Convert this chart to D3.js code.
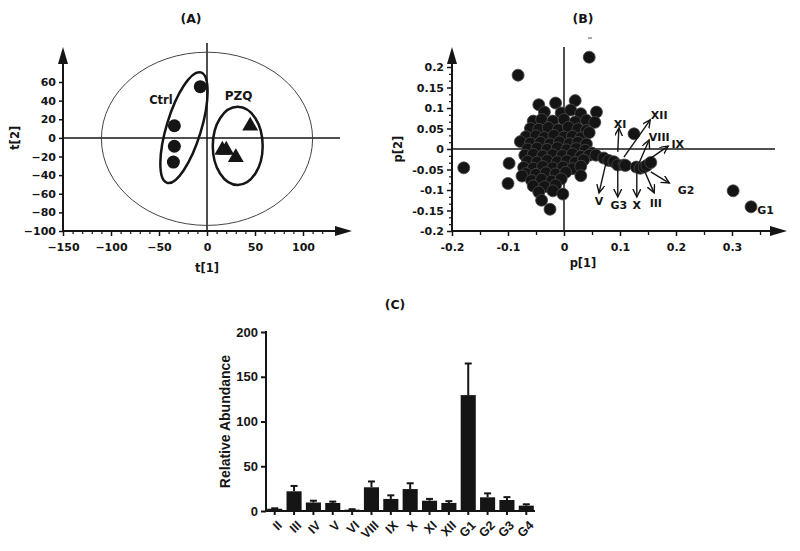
<!DOCTYPE html>
<html><head><meta charset="utf-8">
<script src="https://cdn.jsdelivr.net/npm/d3@7"></script>
<style>
body{margin:0;background:#fff}
svg text{font-family:"DejaVu Sans",Verdana,sans-serif;font-weight:bold;fill:#151515}
svg text.ar{font-family:"Liberation Sans",Arial,sans-serif}
</style>
</head><body><svg id="c" width="800" height="551"></svg>
<script>
// ---------- Data ----------
// Panel A: score plot
const ctrlScores = [[-7,55],[-34,13],[-34,-9],[-35,-26]];
const pzqScores = [[16,-12],[20,-12],[30,-20],[45,14]];
const aTicksX = [-150,-100,-50,0,50,100];
const aMinorX = [-140,-130,-120,-110,-90,-80,-70,-60,-40,-30,-20,-10,10,20,30,40,60,70,80,90,110,120];
const aTicksY = [60,40,20,0,-20,-40,-60,-80,-100];
// Hotelling ellipse and group ellipses (data units)
const hotelling = {cx:0, cy:-1, rx:110, ry:93};
const ctrlEllipse = {cx:-24, cy:11, rx:18, ry:62, angle:17};
const pzqEllipse = {cx:32, cy:-8.6, rx:26, ry:42, angle:0};

// Panel B: loading plot
const loadings = [
 [-0.179,-0.046],[-0.082,0.18],[0.045,0.224],[0.302,-0.102],[0.334,-0.141],
 [-0.098,-0.035],[-0.1,-0.084],[-0.025,-0.147],[0.125,0.037],
 [-0.045,0.108],[-0.015,0.112],[0.02,0.118],
 [-0.035,0.09],[-0.005,0.088],[0.012,0.095],[0.03,0.086],[0.058,0.09],
 [-0.055,0.068],[-0.04,0.072],[-0.02,0.068],[0.0,0.072],[0.02,0.066],[0.04,0.07],[0.055,0.065],
 [-0.06,0.05],[-0.045,0.048],[-0.028,0.052],[-0.01,0.047],[0.008,0.053],[0.025,0.049],[0.04,0.045],
 [-0.068,0.03],[-0.05,0.032],[-0.035,0.028],[-0.018,0.033],[0.0,0.029],[0.015,0.031],[0.03,0.027],[0.045,0.04],
 [-0.078,0.018],[-0.06,0.014],[-0.042,0.016],[-0.025,0.012],[-0.008,0.017],[0.01,0.013],[0.025,0.016],[0.04,0.012],
 [-0.065,0.0],[-0.048,0.002],[-0.03,-0.001],[-0.012,0.003],[0.005,-0.002],[0.022,0.001],[0.038,-0.003],[0.05,-0.01],
 [-0.07,-0.015],[-0.055,-0.013],[-0.038,-0.017],[-0.02,-0.014],[-0.003,-0.016],[0.015,-0.012],[0.03,-0.018],[0.045,-0.015],
 [-0.065,-0.03],[-0.048,-0.032],[-0.03,-0.028],[-0.012,-0.031],[0.005,-0.029],[0.02,-0.033],[0.035,-0.027],
 [-0.072,-0.045],[-0.055,-0.047],[-0.038,-0.043],[-0.02,-0.046],[-0.002,-0.044],[0.015,-0.048],[0.03,-0.042],
 [-0.068,-0.06],[-0.05,-0.062],[-0.032,-0.058],[-0.015,-0.061],[0.003,-0.057],[0.03,-0.065],
 [-0.075,-0.066],[-0.058,-0.077],[-0.04,-0.074],[-0.022,-0.078],[-0.005,-0.073],
 [-0.055,-0.09],[-0.035,-0.092],[-0.015,-0.088],
 [-0.045,-0.105],[-0.02,-0.102],[-0.002,-0.11],[-0.04,-0.125],
 [0.057,-0.015],[0.071,-0.022],[0.08,-0.028],[0.089,-0.031],[0.096,-0.039],[0.107,-0.039],
 [0.11,-0.04],[0.129,-0.044],[0.136,-0.047],[0.143,-0.044],[0.148,-0.04],[0.155,-0.033]
];
const bTicksX = [-0.2,-0.1,0,0.1,0.2,0.3];
const bMinorX = [-0.15,-0.05,0.05,0.15,0.25,0.35];
const bTicksY = [0.2,0.15,0.1,0.05,0,-0.05,-0.1,-0.15,-0.2];
const bTickLabelsY = ["0.2","0.15","0.1","0.05","0","-0.05","-0.1","-0.15","-0.2"];
// annotation arrows: label, from (x,y), to (x,y), label position (x,y)
const arrowLabels = ["XI","XII","VIII","IX","G2","III","X","G3","V"];
const arrowFrom = [[0.096,-0.007],[0.107,-0.02],[0.134,-0.034],[0.15,-0.027],[0.155,-0.056],[0.143,-0.051],[0.13,-0.039],[0.096,-0.039],[0.075,-0.034]];
const arrowTo = [[0.098,0.051],[0.154,0.071],[0.152,0.022],[0.186,0.007],[0.188,-0.083],[0.161,-0.107],[0.13,-0.117],[0.096,-0.117],[0.0625,-0.107]];
const arrowText = [[0.1,0.062],[0.17,0.082],[0.17,0.03],[0.203,0.012],[0.218,-0.1],[0.164,-0.131],[0.13,-0.137],[0.098,-0.137],[0.0625,-0.127]];
const g1Label = [0.345,-0.149];

// Panel C: bar chart
const barCategories = ["II","III","IV","V","VI","VIII","IX","X","XI","XII","G1","G2","G3","G4"];
const barValues = [2.5,22,9.5,9,1.5,26.5,13.5,24.5,11.5,9,129.5,15.3,12.3,6];
const barErrTop = [3,28,11.5,10.5,2,33,17.5,31,13.5,11,164.8,19.7,15.5,7.5];
const cTicksY = [0,50,100,150,200];

// ---------- Drawing ----------
const svg = d3.select("#c");
const ink = "#151515";
svg.append("defs").append("marker")
  .attr("id","arr").attr("markerUnits","userSpaceOnUse")
  .attr("markerWidth",10).attr("markerHeight",10)
  .attr("refX",8).attr("refY",4).attr("orient","auto")
  .append("path").attr("d","M0,0 L8,4 L0,8").attr("fill","none")
  .attr("stroke",ink).attr("stroke-width",1.4);

function styleAxis(g, w){
  g.select(".domain").remove();
  g.selectAll("line").attr("stroke",ink).attr("stroke-width",w||1.5);
  g.selectAll("text").attr("fill",ink).attr("font-weight","bold");
}
function arrowHeadUp(x,y){ svg.append("path").attr("d",`M${x},${y} L${x-5},${y+17} L${x+5},${y+17} Z`).attr("fill",ink); }
function arrowHeadRight(x,y){ svg.append("path").attr("d",`M${x},${y} L${x-17},${y-5} L${x-17},${y+5} Z`).attr("fill",ink); }

// ===== Panel A =====
const xA = d3.scaleLinear().domain([-150,100]).range([63,303]);
const yA = d3.scaleLinear().domain([-100,60]).range([231,82]);
const gA = svg.append("g");
svg.append("text").attr("x",191).attr("y",23).attr("text-anchor","middle").attr("font-size",12.5).text("(A)");
gA.append("line").attr("x1",xA(-150)).attr("x2",340).attr("y1",yA(0)).attr("y2",yA(0)).attr("stroke",ink).attr("stroke-width",1.5);
gA.append("line").attr("x1",xA(0)).attr("x2",xA(0)).attr("y1",43).attr("y2",yA(-100)).attr("stroke",ink).attr("stroke-width",1.5);
gA.append("ellipse").attr("cx",xA(hotelling.cx)).attr("cy",yA(hotelling.cy))
  .attr("rx",xA(hotelling.rx)-xA(0)).attr("ry",yA(0)-yA(hotelling.ry))
  .attr("fill","none").attr("stroke","#444").attr("stroke-width",1);
[ctrlEllipse,pzqEllipse].forEach(e=>{
  gA.append("ellipse").attr("transform",`translate(${xA(e.cx)},${yA(e.cy)}) rotate(${e.angle})`)
    .attr("rx",xA(e.rx)-xA(0)).attr("ry",yA(0)-yA(e.ry))
    .attr("fill","none").attr("stroke",ink).attr("stroke-width",2.5);
});
const axAx = gA.append("g").attr("transform",`translate(0,${yA(-100)})`)
  .call(d3.axisBottom(xA).tickValues(aTicksX).tickSize(5).tickPadding(7).tickSizeOuter(0));
styleAxis(axAx); axAx.selectAll("text").attr("font-size",11);
const axAxm = gA.append("g").attr("transform",`translate(0,${yA(-100)})`)
  .call(d3.axisBottom(xA).tickValues(aMinorX).tickSize(3).tickFormat(""));
styleAxis(axAxm,1.2);
const axAy = gA.append("g").attr("transform",`translate(${xA(-150)},0)`)
  .call(d3.axisLeft(yA).tickValues(aTicksY).tickSize(4).tickPadding(3).tickSizeOuter(0));
styleAxis(axAy); axAy.selectAll("text").attr("font-size",11);
gA.append("line").attr("x1",xA(-150)).attr("x2",345).attr("y1",yA(-100)).attr("y2",yA(-100)).attr("stroke",ink).attr("stroke-width",2);
gA.append("line").attr("x1",xA(-150)).attr("x2",xA(-150)).attr("y1",yA(-100)).attr("y2",55).attr("stroke",ink).attr("stroke-width",2);
arrowHeadUp(xA(-150),47);
arrowHeadRight(352,yA(-100));
svg.append("text").attr("transform",`translate(19,${yA(0)}) rotate(-90)`).attr("text-anchor","middle").attr("font-size",11.5).text("t[2]");
svg.append("text").attr("x",xA(0)).attr("y",272).attr("text-anchor","middle").attr("font-size",11.5).text("t[1]");
gA.selectAll(".ctrl").data(ctrlScores).join("circle")
  .attr("cx",d=>xA(d[0])).attr("cy",d=>yA(d[1])).attr("r",6.5).attr("fill",ink);
gA.selectAll(".pzq").data(pzqScores).join("path")
  .attr("transform",d=>`translate(${xA(d[0])},${yA(d[1])+1})`)
  .attr("d",d3.symbol(d3.symbolTriangle,110)).attr("fill",ink);
svg.append("text").attr("x",xA(-48)).attr("y",yA(40)+3).attr("text-anchor","middle").attr("font-size",11.5).text("Ctrl");
svg.append("text").attr("x",xA(33)).attr("y",yA(40)-1).attr("text-anchor","middle").attr("font-size",12).text("PZQ");

// ===== Panel B =====
const xB = d3.scaleLinear().domain([-0.2,0.3]).range([452,732]);
const yB = d3.scaleLinear().domain([-0.2,0.2]).range([231,67]);
const gB = svg.append("g");
svg.append("text").attr("x",583).attr("y",23).attr("text-anchor","middle").attr("font-size",12.5).text("(B)");
gB.append("line").attr("x1",588).attr("x2",592).attr("y1",38).attr("y2",38).attr("stroke","#555").attr("stroke-width",1);
gB.append("line").attr("x1",xB(-0.2)).attr("x2",775).attr("y1",yB(0)).attr("y2",yB(0)).attr("stroke",ink).attr("stroke-width",1.5);
gB.append("line").attr("x1",xB(0)).attr("x2",xB(0)).attr("y1",47).attr("y2",yB(-0.2)).attr("stroke",ink).attr("stroke-width",1.5);
const bxA = gB.append("g").attr("transform",`translate(0,${yB(-0.2)})`)
  .call(d3.axisBottom(xB).tickValues(bTicksX).tickSize(5).tickPadding(7).tickFormat(d=>String(Math.round(d*10)/10)));
styleAxis(bxA); bxA.selectAll("text").attr("font-size",11);
const bxAm = gB.append("g").attr("transform",`translate(0,${yB(-0.2)})`)
  .call(d3.axisBottom(xB).tickValues(bMinorX).tickSize(4).tickFormat(""));
styleAxis(bxAm,1.3);
const byA = gB.append("g").attr("transform",`translate(${xB(-0.2)},0)`)
  .call(d3.axisLeft(yB).tickValues(bTicksY).tickSize(5).tickPadding(3).tickFormat((d,i)=>bTickLabelsY[i]));
styleAxis(byA); byA.selectAll("text").attr("font-size",11);
const bMinorY = [];
for (let i=0;i<bTicksY.length-1;i++){ const a=bTicksY[i], b=bTicksY[i+1]; bMinorY.push(a+(b-a)/3, a+2*(b-a)/3); }
const byAm = gB.append("g").attr("transform",`translate(${xB(-0.2)},0)`)
  .call(d3.axisLeft(yB).tickValues(bMinorY).tickSize(3).tickFormat(""));
styleAxis(byAm,1.2);
gB.append("line").attr("x1",xB(-0.2)).attr("x2",780).attr("y1",yB(-0.2)).attr("y2",yB(-0.2)).attr("stroke",ink).attr("stroke-width",2);
gB.append("line").attr("x1",xB(-0.2)).attr("x2",xB(-0.2)).attr("y1",yB(-0.2)).attr("y2",55).attr("stroke",ink).attr("stroke-width",2);
arrowHeadUp(xB(-0.2),47);
arrowHeadRight(787,yB(-0.2));
svg.append("text").attr("transform",`translate(402,${yB(0)}) rotate(-90)`).attr("text-anchor","middle").attr("font-size",11.5).text("p[2]");
svg.append("text").attr("x",583).attr("y",267).attr("text-anchor","middle").attr("font-size",11.5).text("p[1]");
gB.selectAll(".ld").data(loadings).join("circle")
  .attr("cx",d=>xB(d[0])).attr("cy",d=>yB(d[1])).attr("r",6)
  .attr("fill","#141414").attr("stroke","#4a4a4a").attr("stroke-width",0.8);
arrowLabels.forEach((lab,i)=>{
  gB.append("line").attr("x1",xB(arrowFrom[i][0])).attr("y1",yB(arrowFrom[i][1]))
    .attr("x2",xB(arrowTo[i][0])).attr("y2",yB(arrowTo[i][1]))
    .attr("stroke",ink).attr("stroke-width",1.4).attr("marker-end","url(#arr)");
  gB.append("text").attr("x",xB(arrowText[i][0])).attr("y",yB(arrowText[i][1])+4)
    .attr("text-anchor","middle").attr("font-size",11).text(lab);
});
gB.append("text").attr("x",xB(g1Label[0])).attr("y",yB(g1Label[1])+4).attr("font-size",11).text("G1");

// ===== Panel C =====
const xC = d3.scaleBand().domain(barCategories).range([266,535]).paddingInner(0.22).paddingOuter(0.06);
const yC = d3.scaleLinear().domain([0,200]).range([511,332]);
const gC = svg.append("g");
svg.append("text").attr("x",395).attr("y",309).attr("text-anchor","middle").attr("font-size",12.5).text("(C)");
gC.selectAll(".err").data(barCategories).join("line")
  .attr("x1",d=>xC(d)+xC.bandwidth()/2).attr("x2",d=>xC(d)+xC.bandwidth()/2)
  .attr("y1",(d,i)=>yC(barValues[i])).attr("y2",(d,i)=>yC(barErrTop[i]))
  .attr("stroke",ink).attr("stroke-width",2);
gC.selectAll(".cap").data(barCategories).join("line")
  .attr("x1",d=>xC(d)+xC.bandwidth()/2-3.5).attr("x2",d=>xC(d)+xC.bandwidth()/2+3.5)
  .attr("y1",(d,i)=>yC(barErrTop[i])).attr("y2",(d,i)=>yC(barErrTop[i]))
  .attr("stroke",ink).attr("stroke-width",2);
gC.selectAll(".bar").data(barCategories).join("rect")
  .attr("x",d=>xC(d)).attr("width",xC.bandwidth())
  .attr("y",(d,i)=>yC(barValues[i])).attr("height",(d,i)=>yC(0)-yC(barValues[i]))
  .attr("fill",ink);
const cyA = gC.append("g").attr("transform","translate(266,0)")
  .call(d3.axisLeft(yC).tickValues(cTicksY).tickSize(5).tickPadding(3).tickSizeOuter(0));
styleAxis(cyA,2); cyA.selectAll("text").attr("class","ar").attr("font-size",13);
const cxA = gC.append("g").attr("transform","translate(0,511)")
  .call(d3.axisBottom(xC).tickSize(4).tickSizeOuter(0));
styleAxis(cxA,2);
cxA.selectAll("text").attr("class","ar").attr("font-size",12.5).attr("text-anchor","end")
  .attr("x",0).attr("y",0).attr("dy","0.35em")
  .attr("transform","translate(5,12) rotate(-45)");
gC.append("line").attr("x1",266).attr("x2",535).attr("y1",511).attr("y2",511).attr("stroke",ink).attr("stroke-width",2);
gC.append("line").attr("x1",266).attr("x2",266).attr("y1",511).attr("y2",331).attr("stroke",ink).attr("stroke-width",2);
svg.append("text").attr("class","ar").attr("transform",`translate(230,${yC(100)}) rotate(-90)`).attr("text-anchor","middle").attr("font-size",14).text("Relative Abundance");
</script></body></html>
